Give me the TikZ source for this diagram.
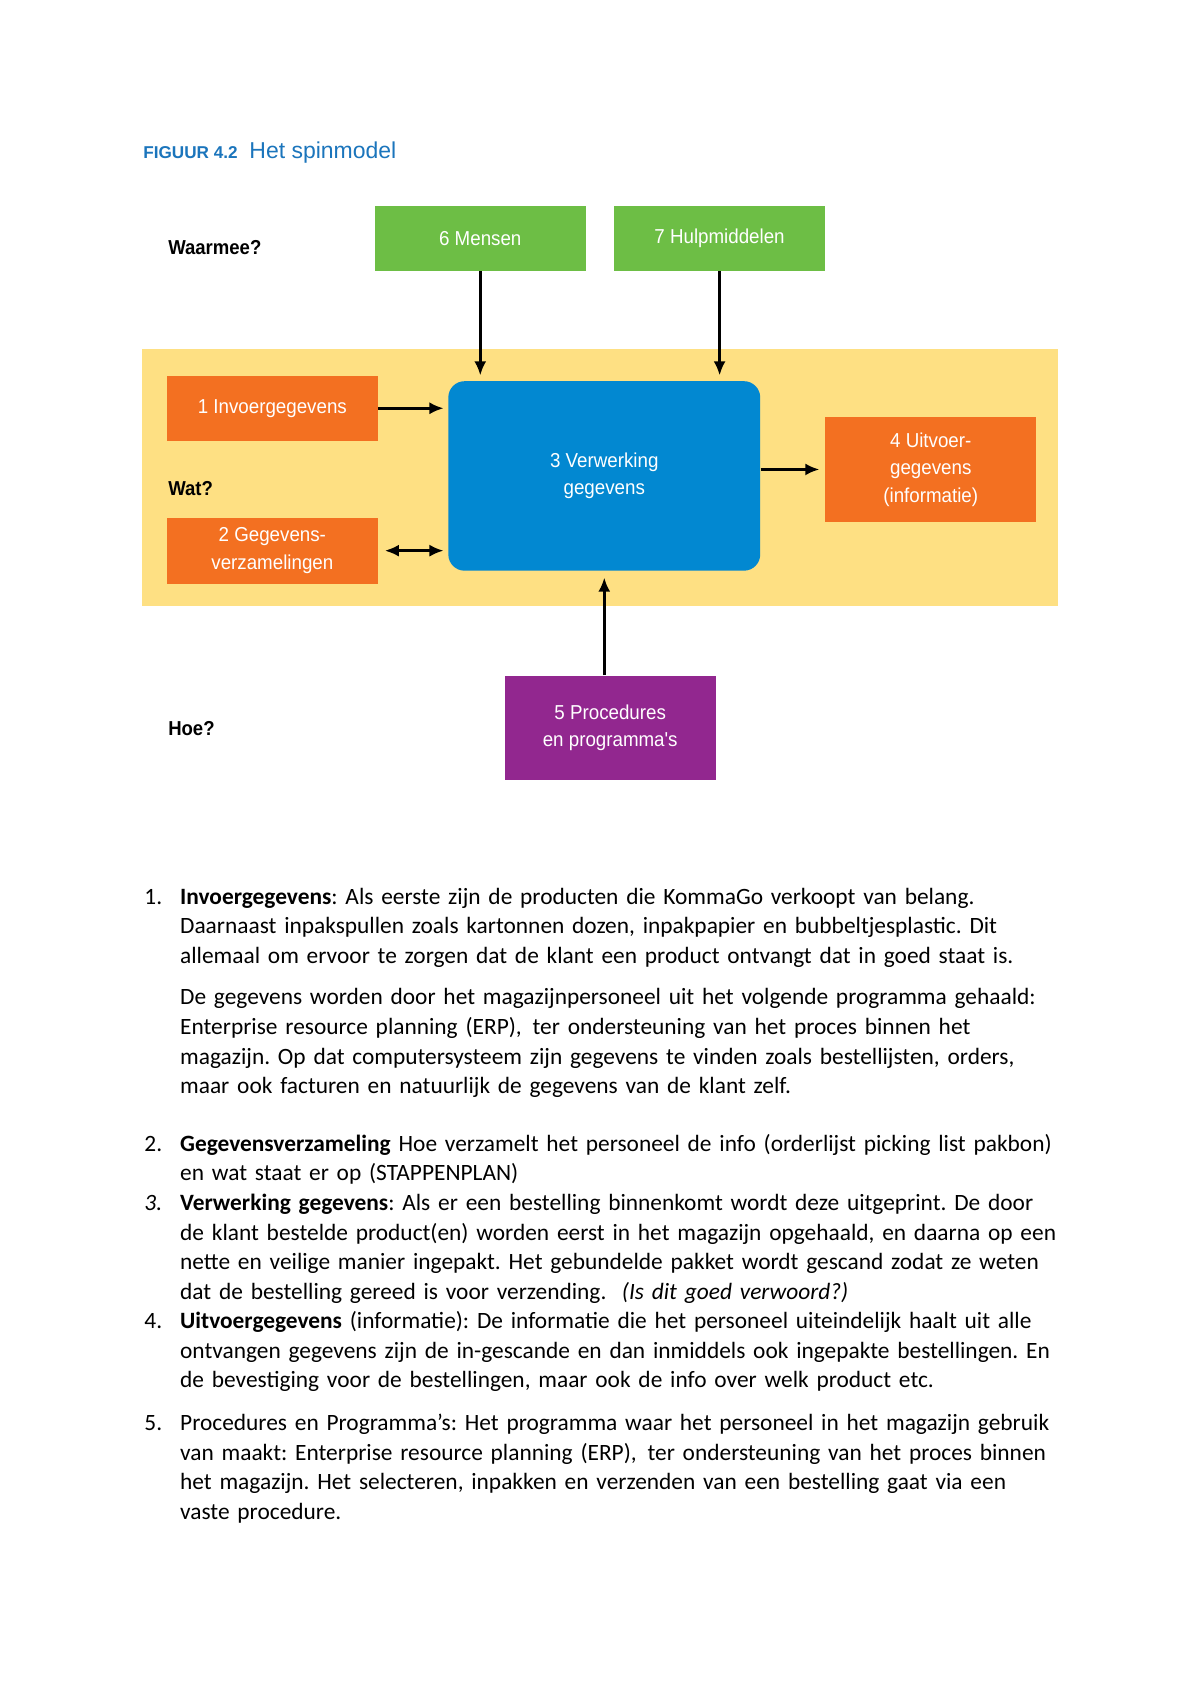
\documentclass[tikz,border=0pt]{standalone}
\usepackage{fontspec}
\setmainfont{Carlito}[WordSpace=0.62]
\newfontfamily\boxfont[FakeStretch=0.93]{Liberation Sans}
\newfontfamily\questfont[FakeStretch=0.92]{Liberation Sans}
\newfontfamily\titlefont{Liberation Sans}
\usepackage{tikz}
\usetikzlibrary{arrows.meta,positioning}

\definecolor{spingreen}{HTML}{6DBE45}
\definecolor{spinyellow}{HTML}{FEE083}
\definecolor{spinorange}{HTML}{F37021}
\definecolor{spinblue}{HTML}{0288D1}
\definecolor{spinpurple}{HTML}{92278F}
\definecolor{titleblue}{HTML}{1B75BC}

\newcommand{\pxu}{0.5373pt}
\newcommand{\bodyfont}{\fontsize{11.6}{14.67}\selectfont\frenchspacing}

\begin{document}
\begin{tikzpicture}[x=0.5373pt, y=-0.5373pt]
		\tikzstyle{box}=[rectangle, inner sep=0pt, text=white, align=center, font=\boxfont\fontsize{10}{13.7}\selectfont]
		\tikzstyle{question}=[anchor=west, inner sep=0pt, font=\questfont\bfseries\fontsize{10}{12}\selectfont]
		\tikzstyle{flow}=[-{Latex[length=7pt,width=6pt]}, line width=1.3pt]
		\tikzstyle{para}=[anchor=base west, inner sep=0pt, text width=470pt, align=left, font=\bodyfont]
		\tikzstyle{num}=[anchor=base west, inner sep=0pt, font=\bodyfont]
		
		\useasboundingbox[fill=white] (0,0) rectangle (1108,1568);
		
		% Title
		\node[anchor=base west, inner sep=0pt, text=titleblue, font=\titlefont\bfseries\fontsize{8.5}{10}\selectfont] (fig_nr) at (132,146) {FIGUUR 4.2};
		\node[anchor=base west, inner sep=0pt, text=titleblue, font=\titlefont\fontsize{11.4}{13}\selectfont] (fig_title) at (230,146) {Het spinmodel};
		
		% Band
		\node[rectangle, fill=spinyellow, minimum width=846*\pxu, minimum height=238*\pxu] (band) at (554,441) {};
		
		% Waarmee?
		\node[box, fill=spingreen, minimum width=195*\pxu, minimum height=60*\pxu] (mensen) at (443.5,220) {6 Mensen};
		\node[box, fill=spingreen, minimum width=195*\pxu, minimum height=60*\pxu] (hulp) at (664.5,220) {7 Hulpmiddelen};
		
		% Wat?
		\node[box, fill=spinorange, minimum width=195*\pxu, minimum height=60*\pxu] (invoer) at (251.5,377) {1 Invoergegevens};
		\node[box, fill=spinorange, minimum width=195*\pxu, minimum height=61*\pxu] (verzamel) at (251.5,508.5) {2 Gegevens-\\verzamelingen};
		\node[box, fill=spinblue, rounded corners=15*\pxu, minimum width=288*\pxu, minimum height=175*\pxu] (verwerk) at (558,439.5) {3 Verwerking\\gegevens};
		\node[box, fill=spinorange, minimum width=195*\pxu, minimum height=97*\pxu] (uitvoer) at (859.5,433.5) {4 Uitvoer-\\gegevens\\(informatie)};
		
		% Hoe?
		\node[box, fill=spinpurple, minimum width=195*\pxu, minimum height=96*\pxu] (proc) at (563.5,672) {5 Procedures\\en programma's};
		
		% Questions
		\node[question] (q_waarmee) at (155,229) {Waarmee?};
		\node[question] (q_wat) at (155,451) {Wat?};
		\node[question] (q_hoe) at (155,673) {Hoe?};
		
		% Arrows
		\draw [flow, shorten >=5*\pxu] (mensen.south) -- (mensen.south |- verwerk.north);
		\draw [flow, shorten >=5*\pxu] (hulp.south) -- (hulp.south |- verwerk.north);
		\draw [flow, shorten >=4*\pxu] (invoer.east) -- (invoer.east -| verwerk.west);
		\draw [flow, {Latex[length=7pt,width=6pt]}-{Latex[length=7pt,width=6pt]}, shorten <=6*\pxu, shorten >=4*\pxu] (verzamel.east) -- (verzamel.east -| verwerk.west);
		\draw [flow, shorten >=5*\pxu] (verwerk.east |- uitvoer.west) -- (uitvoer.west);
		\draw [flow, shorten >=6*\pxu] (verwerk.south |- proc.north) -- (verwerk.south);
		
		% List
		\node[num] (n1) at (133,835) {1.};
		\node[para] (t1a) at (166,835) {\textbf{Invoergegevens}: Als eerste zijn de producten die KommaGo verkoopt van belang.\\
			Daarnaast inpakspullen zoals kartonnen dozen, inpakpapier en bubbeltjesplastic. Dit\\
			allemaal om ervoor te zorgen dat de klant een product ontvangt dat in goed staat is.};
		\node[para] (t1b) at (166,928) {De gegevens worden door het magazijnpersoneel uit het volgende programma gehaald:\\
			Enterprise resource planning (ERP),\hspace{1.5pt} ter ondersteuning van het proces binnen het\\
			magazijn. Op dat computersysteem zijn gegevens te vinden zoals bestellijsten, orders,\\
			maar ook facturen en natuurlijk de gegevens van de klant zelf.};
		
		\node[num] (n2) at (133,1063) {2.};
		\node[para] (t2) at (166,1063) {\textbf{Gegevensverzameling} Hoe verzamelt het personeel de info (orderlijst picking list pakbon)\\
			en wat staat er op (STAPPENPLAN)};
		
		\node[num] (n3) at (133,1118) {\textit{3.}};
		\node[para] (t3) at (166,1118) {\textbf{Verwerking gegevens}: Als er een bestelling binnenkomt wordt deze uitgeprint. De door\\
			de klant bestelde product(en) worden eerst in het magazijn opgehaald, en daarna op een\\
			nette en veilige manier ingepakt. Het gebundelde pakket wordt gescand zodat ze weten\\
			dat de bestelling gereed is voor verzending. \ \textit{(Is dit goed verwoord?)}};
		
		\node[num] (n4) at (133,1227) {4.};
		\node[para] (t4) at (166,1227) {\textbf{Uitvoergegevens} (informatie): De informatie die het personeel uiteindelijk haalt uit alle\\
			ontvangen gegevens zijn de in-gescande en dan inmiddels ook ingepakte bestellingen. En\\
			de bevestiging voor de bestellingen, maar ook de info over welk product etc.};
		
		\node[num] (n5) at (133,1321) {5.};
		\node[para] (t5) at (166,1321) {Procedures en Programma's: Het programma waar het personeel in het magazijn gebruik\\
			van maakt: Enterprise resource planning (ERP),\hspace{1.5pt} ter ondersteuning van het proces binnen\\
			het magazijn. Het selecteren, inpakken en verzenden van een bestelling gaat via een\\
			vaste procedure.};
\end{tikzpicture}
\end{document}
